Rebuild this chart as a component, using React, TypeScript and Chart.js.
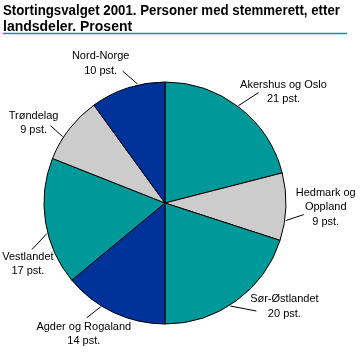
import React, { useEffect, useRef } from "react";
import { Chart, registerables } from "chart.js";

Chart.register(...registerables);

const categories = [
  "Akershus og Oslo",
  "Hedmark og Oppland",
  "Sør-Østlandet",
  "Agder og Rogaland",
  "Vestlandet",
  "Trøndelag",
  "Nord-Norge",
];
const shares = [21, 9, 20, 14, 17, 9, 10];
const labelTexts = [
  ["Akershus og Oslo"],
  ["Hedmark og", "Oppland"],
  ["Sør-Østlandet"],
  ["Agder og Rogaland"],
  ["Vestlandet"],
  ["Trøndelag"],
  ["Nord-Norge"],
];
const titleLines = [
  "Stortingsvalget 2001. Personer med stemmerett, etter",
  "landsdeler. Prosent",
];

const TEAL = "#009999";
const GRAY = "#CCCCCC";
const BLUE = "#003399";
const sliceColors = [TEAL, GRAY, TEAL, BLUE, TEAL, GRAY, BLUE];

// label layout (style): anchor fraction within slice, leader line end offset, text offset
const labelStyle = [
  { frac: 0.49, line: [20, -13], text: [45, -21] },
  { frac: 0.7, line: [18, -6], text: [40, -28] },
  { frac: 0.55, line: [26, 5], text: [54, -7] },
  { frac: 0.63, line: [-14, 11], text: [-17, 20] },
  { frac: 0.41, line: [-15, 16], text: [-19, 23] },
  { frac: 0.35, line: [-12, -11], text: [-29, -21] },
  { frac: 0.64, line: [-15, -13], text: [-37, -28] },
];

const overlayPlugin = {
  id: "overlay",
  afterDraw(chart: any) {
    const ctx = chart.ctx as CanvasRenderingContext2D;
    ctx.save();
    // title
    ctx.fillStyle = "#000";
    ctx.font = "bold 14px 'Liberation Sans', Arial, sans-serif";
    ctx.textAlign = "left";
    ctx.textBaseline = "alphabetic";
    ctx.fillText(titleLines[0], 3, 15, 337);
    ctx.fillText(titleLines[1], 3, 31);
    ctx.strokeStyle = TEAL;
    ctx.lineWidth = 1.5;
    ctx.beginPath();
    ctx.moveTo(3, 33.5);
    ctx.lineTo(347, 33.5);
    ctx.stroke();

    // labels
    const meta = chart.getDatasetMeta(0);
    ctx.font = "11px 'Liberation Sans', Arial, sans-serif";
    ctx.textAlign = "center";
    ctx.textBaseline = "middle";
    ctx.strokeStyle = "#000";
    ctx.lineWidth = 1;
    meta.data.forEach((arc: any, i: number) => {
      const st = labelStyle[i];
      const a = arc.startAngle + st.frac * (arc.endAngle - arc.startAngle);
      const r = arc.outerRadius + 1;
      const ax = arc.x + r * Math.cos(a);
      const ay = arc.y + r * Math.sin(a);
      ctx.beginPath();
      ctx.moveTo(ax, ay);
      ctx.lineTo(ax + st.line[0], ay + st.line[1]);
      ctx.stroke();
      const lines = [...labelTexts[i], `${shares[i]} pst.`];
      lines.forEach((t, k) => {
        ctx.fillText(t, ax + st.text[0], ay + st.text[1] + k * 14.5);
      });
    });
    ctx.restore();
  },
};

export default function App() {
  const ref = useRef<HTMLCanvasElement>(null);
  useEffect(() => {
    if (!ref.current) return;
    const chart = new Chart(ref.current, {
      type: "pie",
      data: {
        labels: categories,
        datasets: [
          {
            data: shares,
            backgroundColor: sliceColors,
            borderColor: "#000",
            borderWidth: 1,
          },
        ],
      },
      options: {
        responsive: false,
        animation: false,
        devicePixelRatio: 1,
        radius: 121,
        layout: { padding: { left: 44, right: 75, top: 82, bottom: 37 } },
        plugins: {
          legend: { display: false },
          tooltip: { enabled: false },
          title: { display: false },
        },
      } as any,
      plugins: [overlayPlugin],
    });
    return () => chart.destroy();
  }, []);
  return (
    <div style={{ position: "absolute", left: 0, top: 0, width: 361, height: 361, background: "#fff" }}>
      <canvas ref={ref} width={361} height={361} style={{ width: 361, height: 361 }} />
    </div>
  );
}
